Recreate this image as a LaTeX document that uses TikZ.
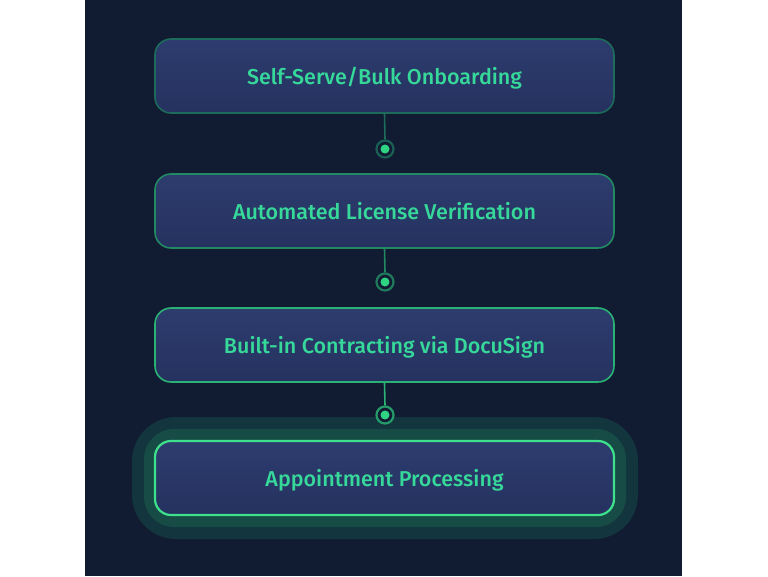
\documentclass[tikz,border=0pt]{standalone}
\usepackage{fontspec}
\setmainfont{Fira Sans}[UprightFont={* Medium}]
\usetikzlibrary{positioning,calc}

\definecolor{pagebg}{HTML}{111C33}
\definecolor{boxtop}{HTML}{2D3C6E}
\definecolor{boxbot}{HTML}{253260}
\definecolor{mint}{HTML}{36D99A}
\definecolor{pipgreen}{HTML}{2FD483}
\definecolor{edgeA}{HTML}{1D6B5A}
\definecolor{edgeB}{HTML}{218A62}
\definecolor{edgeC}{HTML}{29B274}
\definecolor{edgeD}{HTML}{3EE08C}
\definecolor{glowin}{HTML}{174C46}
\definecolor{glowout}{HTML}{13353D}

\tikzset{
    stage/.style={draw, line width=1.6pt, rounded corners=16pt,
        minimum width=459pt, minimum height=74pt,
        text height=16pt, text depth=0pt,
        top color=boxtop, bottom color=boxbot, text=mint,
        font=\fontsize{21.5}{24}\selectfont},
    ring/.style={circle, draw, line width=2.2pt, fill=pagebg,
        minimum size=17pt, inner sep=0pt,
        path picture={\fill[pipgreen] (path picture bounding box.center) circle (4.5pt);}},
    glow/.style={rounded corners=#1, inner sep=0pt}
}

\begin{document}
\begin{tikzpicture}[x=1pt, y=-1pt]
    \useasboundingbox (0,0) rectangle (768,576);
    \fill[white] (0,0) rectangle (768,576);
    \fill[pagebg] (85,0) rectangle (682,576);

    % highlight round the last stage
    \node[glow=44pt, fill=glowout, minimum width=506pt, minimum height=122pt] (haloB) at (385,478) {};
    \node[glow=30pt, fill=glowin, minimum width=482pt, minimum height=98pt] (haloA) at (385,478) {};

    \node[stage, draw=edgeA] (onboard) at (384.5,76) {Self-Serve/Bulk Onboarding};
    \node[stage, draw=edgeB] (license) at (384.5,211) {Automated License Verification};
    \node[stage, draw=edgeC] (contract) at (384.5,345) {Built-in Contracting via DocuSign};
    \node[stage, draw=edgeD, line width=2.2pt] (appoint) at (384.5,478) {Appointment Processing};

    \node[ring, draw=edgeA!85!pagebg] (d1) at (385,149) {};
    \node[ring, draw=edgeB!85!pagebg] (d2) at (385,282) {};
    \node[ring, draw=edgeC!85!pagebg] (d3) at (385,415) {};

    \draw[edgeA, line width=1.6pt] (onboard.south) -- (d1.north);
    \draw[edgeB, line width=1.6pt] (license.south) -- (d2.north);
    \draw[edgeC, line width=1.6pt] (contract.south) -- (d3.north);
\end{tikzpicture}
\end{document}
